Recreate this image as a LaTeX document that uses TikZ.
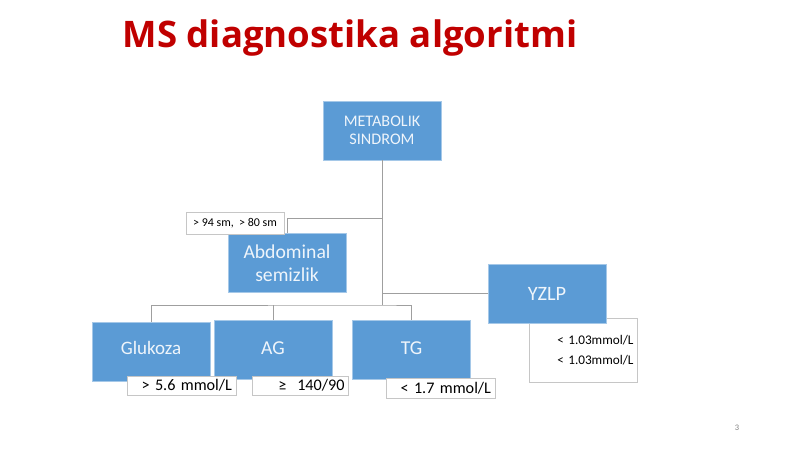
\documentclass[tikz,border=0pt]{standalone}
\usepackage{fontspec}
\setmainfont{Carlito}
\newfontfamily\titlefont{Open Sans}
\usetikzlibrary{calc}
\definecolor{msblue}{HTML}{5B9BD5}
\definecolor{msred}{HTML}{C00000}

\begin{document}
\begin{tikzpicture}[x=0.025cm,y=-0.025cm,
  box/.style={fill=msblue, draw=msblue!55!white, text=white!90!msblue, inner sep=0pt,
    minimum width=2.95cm, minimum height=1.48cm, align=center, font=\fontsize{14}{16}\selectfont},
  tag/.style={fill=white, draw=gray!45, text=black, inner xsep=3pt, inner ysep=0.5pt, align=right,
    font=\fontsize{11.5}{13}\selectfont},
  conn/.style={draw=gray!75, line width=0.5pt}]
\useasboundingbox (0,0) rectangle (800,449);

\node[anchor=base, text=msred, font=\titlefont\bfseries\fontsize{26}{30}\selectfont] (title) at (350,47) {MS diagnostika algoritmi};

% boxes
\node[box, font=\fontsize{11.5}{13}\selectfont] (ms) at (382,130.5) {METABOLIK\\SINDROM};
\node[box] (abd) at (287,263) {Abdominal\\semizlik};
\node[tag, text width=2.5cm, minimum height=1.6cm, font=\fontsize{9.4}{14}\selectfont] (yzlptag) at (583.5,350) {< 1.03mmol/L\\< 1.03mmol/L};
\node[box, font=\fontsize{14.5}{16}\selectfont] (yzlp) at (547,293.5) {YZLP};
\node[box, font=\fontsize{13.5}{16}\selectfont] (glu) at (151,351.5) {\raisebox{5pt}{Glukoza}};
\node[box] (ag) at (273,350) {\raisebox{2pt}{AG}};
\node[box] (tg) at (411.5,350) {\raisebox{2pt}{TG}};

% connectors
\coordinate (fork) at (382,218);
\coordinate (bus) at (382,305);
\draw[conn] (ms.south) -- (bus);
\draw[conn] (fork) -| (abd.north);
\draw[conn] (yzlp.west) -- (yzlp.west -| bus);
\draw[conn] (glu.north) |- (bus) -| (tg.north);
\draw[conn] (ag.north) -- (ag.north |- bus);

% values
\node[tag, minimum width=2.45cm, minimum height=0.55cm, align=center, font=\fontsize{8.5}{10}\selectfont] (smtag) at (235,223) {> 94 sm,\ \ > 80 sm};
\node[tag, text width=2.5cm, minimum height=0.475cm] (glutag) at (182,385.5) {> 5.6 mmol/L};
\node[tag, text width=2.2cm, minimum height=0.475cm] (agtag) at (300.5,385.5) {≥\ \ 140/90};
\node[tag, text width=2.5cm, minimum height=0.5cm] (tgtag) at (441,388) {< 1.7 mmol/L};

\node[text=gray, font=\fontsize{6}{7}\selectfont] (page) at (737,428) {3};
\end{tikzpicture}
\end{document}
